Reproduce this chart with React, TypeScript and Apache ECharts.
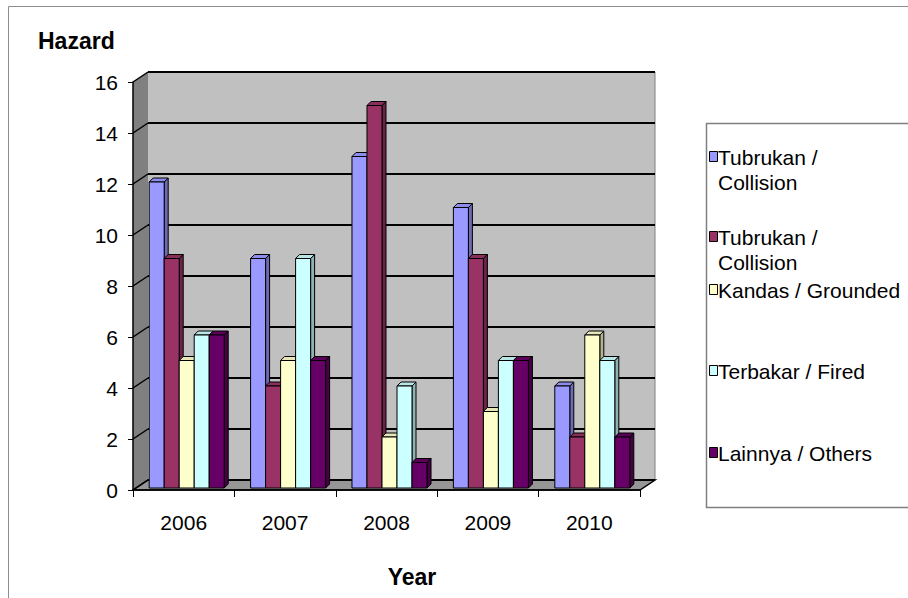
import React, { useEffect, useRef } from "react";
import * as echarts from "echarts";

const categories = ["2006", "2007", "2008", "2009", "2010"];
const seriesNames = [
  "Tubrukan /\nCollision",
  "Tubrukan /\nCollision",
  "Kandas / Grounded",
  "Terbakar / Fired",
  "Lainnya / Others",
];
const collisionA = [12, 9, 13, 11, 4];
const collisionB = [9, 4, 15, 9, 2];
const grounded = [5, 5, 2, 3, 6];
const fired = [6, 9, 4, 5, 5];
const others = [6, 5, 1, 5, 2];
const yTickValues = [0, 2, 4, 6, 8, 10, 12, 14, 16];

const seriesValues = [collisionA, collisionB, grounded, fired, others];
const frontColors = ["#9999FF", "#993366", "#FFFFCC", "#CCFFFF", "#660066"];
const topColors = ["#8C8CEB", "#8A2E5C", "#E6E6B8", "#B8E6E6", "#5C005C"];
const sideColors = ["#6B6BB3", "#6B2447", "#B3B38F", "#8FB3B3", "#470047"];

const FONT = "'Liberation Sans', Arial, sans-serif";
const DX = 15;
const DY = -10;
const BDX = 4;
const BDY = -4;
const SHIFT_X = 3;
const SHIFT_Y = -2;

const legendY = [157, 237, 290, 371, 453];

export default function App() {
  const ref = useRef<HTMLDivElement>(null);
  useEffect(() => {
    if (!ref.current) return;
    const chart = echarts.init(ref.current, undefined, { renderer: "svg" });

    const wallRender = (params: any, api: any) => {
      const band = api.size([1, 0])[0];
      const c0 = api.coord([0, 0]);
      const c4 = api.coord([categories.length - 1, 0]);
      const x0 = c0[0] - band / 2;
      const x1 = c4[0] + band / 2;
      const y0 = c0[1];
      const yTop = api.coord([0, yTickValues[yTickValues.length - 1]])[1];
      const children: any[] = [
        {
          type: "rect",
          shape: { x: x0 + DX, y: yTop + DY, width: x1 - x0, height: y0 - yTop },
          style: { fill: "#C0C0C0" },
        },
        {
          type: "line",
          shape: { x1: x1 + DX, y1: yTop + DY, x2: x1 + DX, y2: y0 + DY },
          style: { stroke: "#808080", lineWidth: 1 },
        },
        {
          type: "polygon",
          shape: { points: [[x0, y0], [x0, yTop], [x0 + DX, yTop + DY], [x0 + DX, y0 + DY]] },
          style: { fill: "#808080" },
        },
        {
          type: "polygon",
          shape: { points: [[x0, y0], [x1, y0], [x1 + DX, y0 + DY], [x0 + DX, y0 + DY]] },
          style: { fill: "#969696", stroke: "#000", lineWidth: 1.5 },
        },
      ];
      yTickValues.forEach((v) => {
        const y = api.coord([0, v])[1];
        children.push({
          type: "line",
          shape: { x1: x0 + DX, y1: y + DY, x2: x1 + DX, y2: y + DY },
          style: { stroke: "#000", lineWidth: 2 },
        });
        children.push({
          type: "line",
          shape: { x1: x0, y1: y, x2: x0 + DX, y2: y + DY },
          style: { stroke: "#000", lineWidth: 1.5 },
        });
      });
      return { type: "group", children };
    };

    const barRender = (k: number) => (params: any, api: any) => {
      const cat = api.value(0);
      const v = api.value(1);
      const top = api.coord([cat, v]);
      const base = api.coord([cat, 0]);
      const band = api.size([1, 0])[0];
      const bw = band * 0.148;
      const xl = top[0] + (k - 2.5) * bw + SHIFT_X;
      const xr = xl + bw;
      const yt = top[1] + SHIFT_Y;
      const yb = base[1] + SHIFT_Y;
      return {
        type: "group",
        children: [
          {
            type: "polygon",
            shape: { points: [[xr, yt], [xr + BDX, yt + BDY], [xr + BDX, yb + BDY], [xr, yb]] },
            style: { fill: sideColors[k], stroke: "#000", lineWidth: 1 },
          },
          {
            type: "polygon",
            shape: { points: [[xl, yt], [xl + BDX, yt + BDY], [xr + BDX, yt + BDY], [xr, yt]] },
            style: { fill: topColors[k], stroke: "#000", lineWidth: 1 },
          },
          {
            type: "rect",
            shape: { x: xl, y: yt, width: bw, height: yb - yt },
            style: { fill: frontColors[k], stroke: "#000", lineWidth: 1 },
          },
        ],
      };
    };

    const legendGraphics: any[] = [];
    seriesNames.forEach((name, k) => {
      legendGraphics.push({
        type: "rect",
        shape: { x: 709.5, y: legendY[k] - 5.5, width: 8, height: 10 },
        style: { fill: frontColors[k], stroke: "#000", lineWidth: 1 },
      });
      legendGraphics.push({
        type: "text",
        x: 718,
        y: legendY[k] - 12.5,
        style: {
          text: name,
          font: `21px ${FONT}`,
          fill: "#000",
          lineHeight: 25,
          textVerticalAlign: "top",
        },
      });
    });

    chart.setOption({
      animation: false,
      backgroundColor: "#fff",
      title: {
        text: "Hazard",
        left: 33,
        top: 24,
        textStyle: { fontFamily: FONT, fontSize: 23, fontWeight: "bold", color: "#000" },
      },
      grid: { left: 133, right: 268, top: 82, bottom: 108 },
      xAxis: {
        type: "category",
        data: categories,
        z: 5,
        axisLine: { lineStyle: { color: "#000", width: 1.5 } },
        axisTick: { show: true, length: 7, lineStyle: { color: "#000" } },
        axisLabel: { fontFamily: FONT, fontSize: 21, color: "#000", margin: 22 },
      },
      yAxis: {
        type: "value",
        min: 0,
        max: 16,
        interval: 2,
        z: 5,
        axisLine: { show: true, lineStyle: { color: "#000", width: 1.5 } },
        axisTick: { show: true, length: 5, lineStyle: { color: "#000" } },
        axisLabel: { fontFamily: FONT, fontSize: 21, color: "#000", margin: 15 },
        splitLine: { show: false },
      },
      graphic: [
        {
          type: "rect",
          shape: { x: 8.5, y: 6.5, width: 1000, height: 1000 },
          style: { fill: "none", stroke: "#8C8C8C", lineWidth: 1 },
          z: -1,
        },
        {
          type: "rect",
          shape: { x: 706.5, y: 123.5, width: 400, height: 384 },
          style: { fill: "#fff", stroke: "#808080", lineWidth: 1.5 },
        },
        ...legendGraphics,
        {
          type: "text",
          x: 412,
          y: 577,
          style: {
            text: "Year",
            font: `bold 23px ${FONT}`,
            fill: "#000",
            textAlign: "center",
            textVerticalAlign: "middle",
          },
        },
      ],
      series: [
        {
          type: "custom",
          name: "walls",
          data: [[0, 0]],
          renderItem: wallRender,
          z: 1,
          silent: true,
        },
        ...seriesValues.map((vals, k) => ({
          type: "custom",
          name: seriesNames[k],
          data: vals.map((v, i) => [i, v]),
          renderItem: barRender(k),
          z: 2,
          itemStyle: { color: frontColors[k] },
        })),
      ],
    });
    return () => chart.dispose();
  }, []);
  return (
    <div
      ref={ref}
      style={{ position: "fixed", left: 0, top: 0, width: 908, height: 598 }}
    />
  );
}
